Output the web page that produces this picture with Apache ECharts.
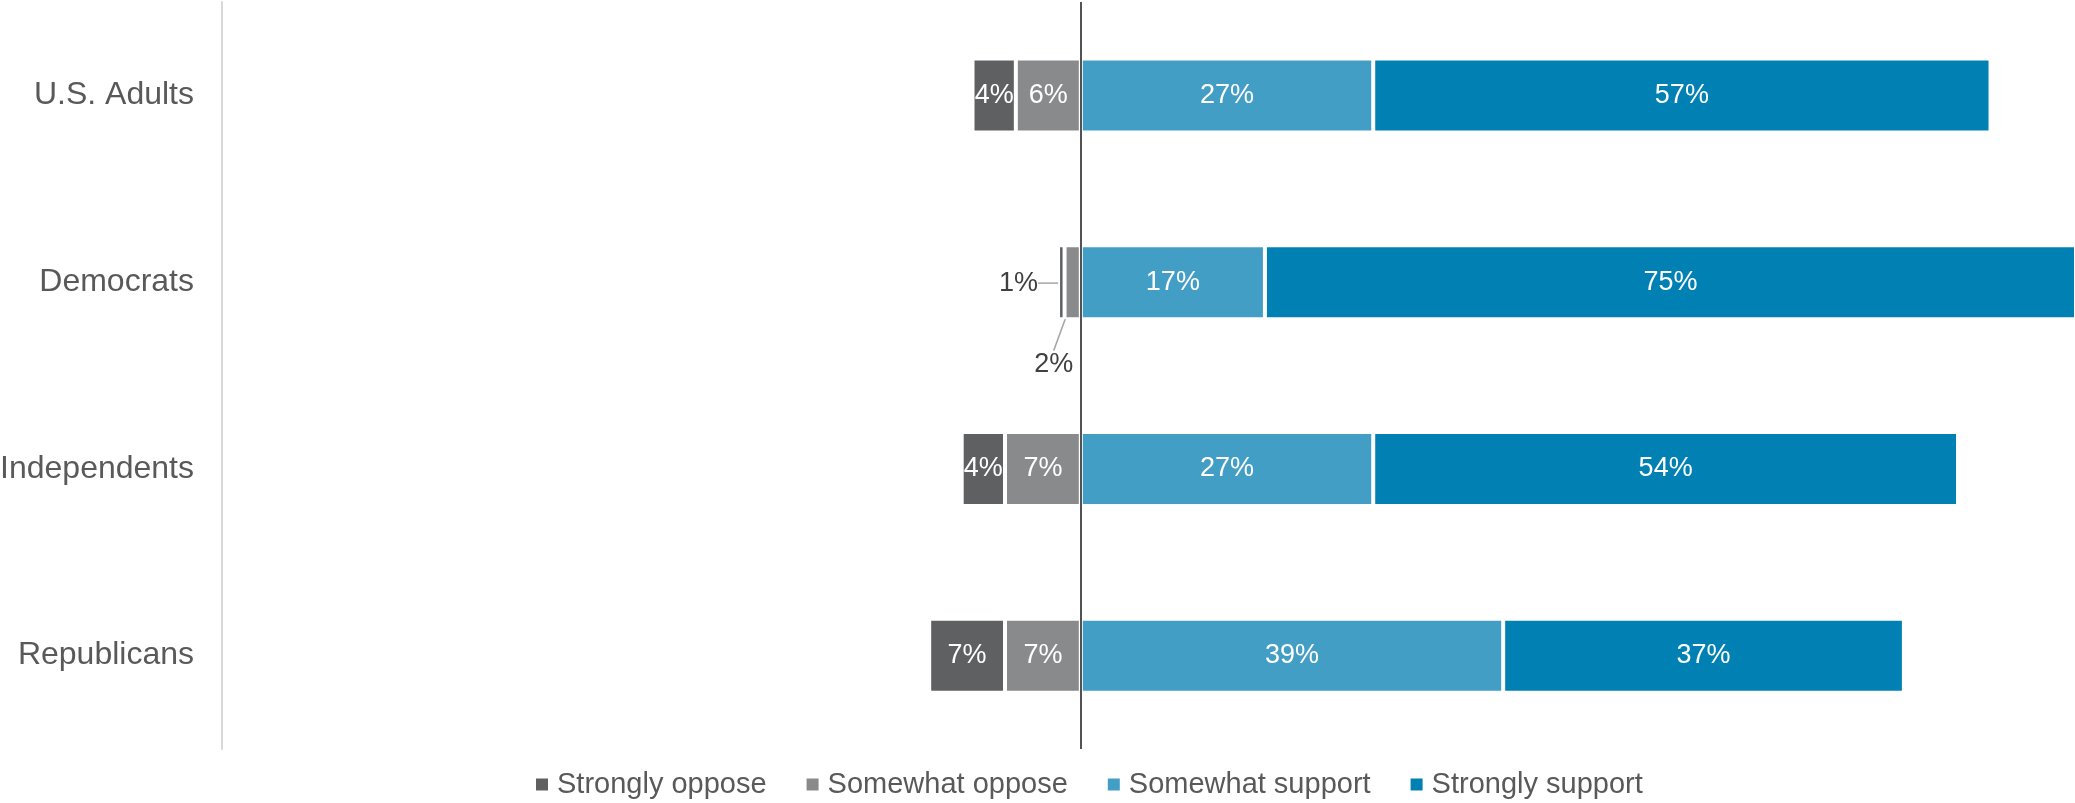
<!DOCTYPE html>
<html>
<head>
<meta charset="utf-8">
<script src="https://cdn.jsdelivr.net/npm/echarts@6/dist/echarts.min.js"></script>
<style>
html,body{margin:0;padding:0;background:#fff;}
#chart{width:2075px;height:803px;}
</style>
</head>
<body>
<div id="chart"></div>
<script>
const categories = ['U.S. Adults', 'Democrats', 'Independents', 'Republicans'];
const seriesNames = ['Strongly oppose', 'Somewhat oppose', 'Somewhat support', 'Strongly support'];
const stronglyOppose = [4, 0.6, 4, 7];
const somewhatOppose = [6, 1.5, 7, 7];
const somewhatSupport = [27, 17, 27, 39];
const stronglySupport = [57, 75, 54, 37];

const colors = {
  'Strongly oppose': '#5f6062',
  'Somewhat oppose': '#898a8c',
  'Somewhat support': '#439ec5',
  'Strongly support': '#0080b3'
};
const FONT = 'Liberation Sans, Arial, sans-serif';

function fmt(p) { return Math.round(Math.abs(p.value)) + '%'; }

function buildData(arr, sign, outsideIdx) {
  return arr.map((v, i) => {
    const item = { value: sign * v };
    if (i === outsideIdx) {
      item.label = { color: '#404040' };
      item.labelLine = { show: true, lineStyle: { color: '#a6a6a6', width: 1.5 } };
    }
    return item;
  });
}

const baseLabel = {
  show: true,
  position: 'inside',
  color: '#ffffff',
  fontSize: 27,
  fontFamily: FONT,
  formatter: fmt
};

const common = {
  type: 'bar',
  stack: 'total',
  barWidth: 74,
  itemStyle: { borderColor: '#ffffff', borderWidth: 2 },
  emphasis: { disabled: true }
};

const option = {
  animation: false,
  textStyle: { fontFamily: FONT },
  grid: { left: 222, right: 0, top: 2, bottom: 54, containLabel: false, outerBoundsMode: 'none' },
  xAxis: {
    type: 'value',
    min: -79.3,
    max: 91.8,
    show: false
  },
  yAxis: {
    type: 'category',
    inverse: true,
    data: categories,
    axisLine: { onZero: false, lineStyle: { color: '#d9d9d9', width: 2 } },
    axisTick: { show: false },
    axisLabel: { color: '#595959', fontSize: 32, fontFamily: FONT, margin: 28 }
  },
  legend: {
    left: 529,
    top: 765,
    itemWidth: 14,
    itemHeight: 14,
    itemGap: 38,
    icon: 'rect',
    data: seriesNames,
    textStyle: { color: '#595959', fontSize: 29, fontFamily: FONT, padding: [0, 0, 0, 3] }
  },
  series: [
    Object.assign({}, common, {
      name: 'Somewhat oppose',
      data: buildData(somewhatOppose, -1, 1),
      itemStyle: { color: colors['Somewhat oppose'], borderColor: '#ffffff', borderWidth: 2 },
      label: baseLabel,
      labelLayout: function (p) {
        if (p.dataIndex !== 1) return null;
        return {
          x: p.rect.x + p.rect.width / 2 - 19,
          y: p.rect.y + p.rect.height + 45,
          align: 'center',
          verticalAlign: 'middle'
        };
      },
      markLine: {
        silent: true,
        symbol: 'none',
        label: { show: false },
        lineStyle: { color: '#1a1a1a', width: 1.5, type: 'solid' },
        data: [{ xAxis: 0 }]
      }
    }),
    Object.assign({}, common, {
      name: 'Strongly oppose',
      data: buildData(stronglyOppose, -1, 1),
      itemStyle: { color: colors['Strongly oppose'], borderColor: '#ffffff', borderWidth: 2 },
      label: baseLabel,
      labelLayout: function (p) {
        if (p.dataIndex !== 1) return null;
        return {
          x: p.rect.x - 20,
          y: p.rect.y + p.rect.height / 2 + 1,
          align: 'right',
          verticalAlign: 'middle'
        };
      }
    }),
    Object.assign({}, common, {
      name: 'Somewhat support',
      data: somewhatSupport.slice(),
      itemStyle: { color: colors['Somewhat support'], borderColor: '#ffffff', borderWidth: 2 },
      label: baseLabel
    }),
    Object.assign({}, common, {
      name: 'Strongly support',
      data: stronglySupport.slice(),
      itemStyle: { color: colors['Strongly support'], borderColor: '#ffffff', borderWidth: 2 },
      label: baseLabel
    })
  ]
};

const chart = echarts.init(document.getElementById('chart'), null, { renderer: 'canvas' });
chart.setOption(option);
</script>
</body>
</html>
